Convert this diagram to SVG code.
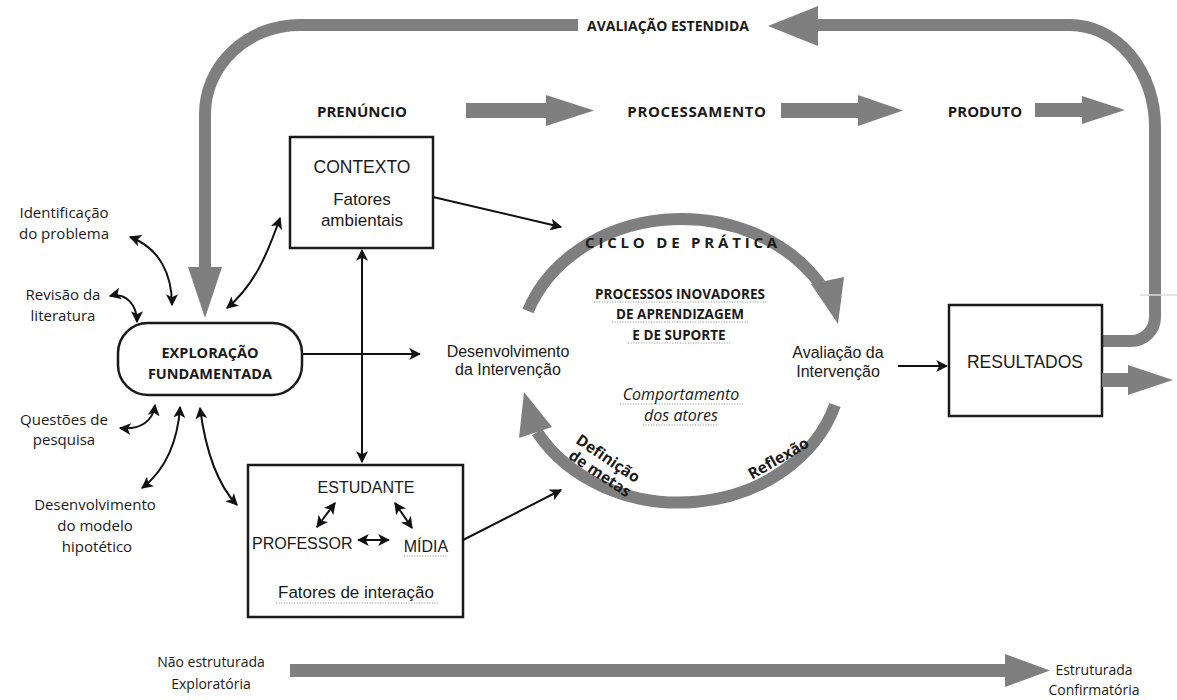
<svg xmlns="http://www.w3.org/2000/svg" width="1177" height="700" viewBox="0 0 1177 700">
  <style>
    .band { fill: none; stroke: #7f7f7f; stroke-width: 12; }
    .head { fill: #7f7f7f; }
    .box { fill: #ffffff; stroke: #1a1a1a; stroke-width: 2.5; }
    .link { fill: none; stroke: #111; stroke-width: 2; }
    .dots { stroke: #8a8a8a; stroke-width: 1.2; stroke-dasharray: 1 1.6; fill: none; }
    .hb { font-family: "Open Sans", "Liberation Sans", sans-serif; font-weight: bold; fill: #1a1a1a; }
    .hr { font-family: "Open Sans", "Liberation Sans", sans-serif; fill: #1a1a1a; }
    .ar { font-family: "Liberation Sans", Arial, sans-serif; fill: #1a1a1a; }
    .mid { text-anchor: middle; }
  </style>
  <defs>
    <marker id="tip" viewBox="0 0 10 10" refX="9" refY="5" markerWidth="6" markerHeight="6" orient="auto-start-reverse" markerUnits="strokeWidth">
      <path d="M0,0 L10,5 L0,10 L2.5,5 Z" fill="#111"/>
    </marker>
  </defs>

  <!-- extended evaluation loop -->
  <g id="extended-loop">
    <path class="band" d="M578,25 L300,25 A95 89 0 0 0 205,114 L205,268"/>
    <polygon class="head" points="188,267 222,267 205,318"/>
    <path class="band" d="M814,25 L1070,25 A85 102 0 0 1 1155,127 L1155,317 A24 24 0 0 1 1131,341 L1100,341"/>
    <polygon class="head" points="768,26 818,6 818,46"/>
    <text class="hb mid" x="668" y="31" font-size="14">AVALIAÇÃO ESTENDIDA</text>
  </g>

  <!-- stage row -->
  <g id="stages">
    <text class="hb mid" x="362" y="117" font-size="15">PRENÚNCIO</text>
    <rect class="head" x="466" y="103" width="81" height="15"/>
    <polygon class="head" points="546,95 594,110.5 546,126"/>
    <text class="hb mid" x="697" y="117" font-size="15" letter-spacing="0.6">PROCESSAMENTO</text>
    <rect class="head" x="781" y="103" width="78" height="15"/>
    <polygon class="head" points="858,95 903,110.5 858,126"/>
    <text class="hb mid" x="985" y="117" font-size="15">PRODUTO</text>
    <rect class="head" x="1035" y="103" width="48" height="14"/>
    <polygon class="head" points="1082,96 1125,110 1082,124"/>
  </g>

  <!-- surrounding topics -->
  <g id="topics">
    <text class="hr mid" x="64" y="218" font-size="15">Identificação</text>
    <text class="hr mid" x="64" y="239" font-size="15">do problema</text>
    <text class="hr mid" x="63" y="300" font-size="15">Revisão da</text>
    <text class="hr mid" x="63" y="321" font-size="15">literatura</text>
    <text class="hr mid" x="64" y="425" font-size="15">Questões de</text>
    <text class="hr mid" x="64" y="445" font-size="15">pesquisa</text>
    <text class="hr mid" x="95" y="510" font-size="15">Desenvolvimento</text>
    <text class="hr mid" x="95" y="531" font-size="15">do modelo</text>
    <text class="hr mid" x="97" y="552" font-size="15">hipotético</text>
  </g>

  <g id="exploracao">
    <rect class="box" x="118" y="323" width="184" height="72" rx="30" ry="30"/>
    <text class="hb mid" x="210" y="358" font-size="14.5">EXPLORAÇÃO</text>
    <text class="hb mid" x="210" y="379" font-size="14.5">FUNDAMENTADA</text>
  </g>

  <g id="contexto">
    <rect class="box" x="290" y="137" width="143" height="111"/>
    <text class="ar mid" x="362" y="173" font-size="17.5">CONTEXTO</text>
    <text class="ar mid" x="362" y="205" font-size="17">Fatores</text>
    <text class="ar mid" x="362" y="226" font-size="17">ambientais</text>
  </g>

  <g id="interacao">
    <rect class="box" x="248" y="465" width="215" height="152"/>
    <text class="ar mid" x="366" y="493" font-size="16">ESTUDANTE</text>
    <text class="ar" x="252" y="549" font-size="16">PROFESSOR</text>
    <text class="ar mid" x="426" y="552" font-size="16">MÍDIA</text>
    <line class="dots" x1="404" y1="556" x2="448" y2="556"/>
    <text class="ar mid" x="356" y="598" font-size="17">Fatores de interação</text>
    <line class="dots" x1="276" y1="603" x2="438" y2="603"/>
    <line class="link" x1="335" y1="503" x2="317" y2="527" marker-start="url(#tip)" marker-end="url(#tip)"/>
    <line class="link" x1="395" y1="503" x2="412" y2="528" marker-start="url(#tip)" marker-end="url(#tip)"/>
    <line class="link" x1="358" y1="540" x2="389" y2="540" marker-start="url(#tip)" marker-end="url(#tip)"/>
  </g>

  <!-- practice cycle -->
  <g id="ciclo">
    <path class="band" d="M528,311 A163 138 0 0 1 820,284"/>
    <polygon class="head" points="811,284 844,277 838,324"/>
    <path class="band" d="M835,405 A163 138 0 0 1 537,432"/>
    <polygon class="head" points="519,438 552,427 524,392"/>
    <text class="hb mid" x="683" y="248" font-size="15" letter-spacing="3.8">CICLO DE PRÁTICA</text>
    <text class="hb mid" x="680" y="299" font-size="13.5">PROCESSOS INOVADORES</text>
    <line class="dots" x1="594" y1="302" x2="767" y2="302"/>
    <text class="hb mid" x="680" y="319" font-size="13.5">DE APRENDIZAGEM</text>
    <line class="dots" x1="612" y1="322" x2="748" y2="322"/>
    <text class="hb mid" x="679" y="340" font-size="13.5">E DE SUPORTE</text>
    <line class="dots" x1="628" y1="343" x2="730" y2="343"/>
    <text class="hr mid" x="681" y="400" font-size="16" font-style="italic">Comportamento</text>
    <line class="dots" x1="620" y1="404" x2="743" y2="404"/>
    <text class="hr mid" x="681" y="421" font-size="16" font-style="italic">dos atores</text>
    <line class="dots" x1="643" y1="425" x2="719" y2="425"/>
    <text class="ar mid" x="508" y="357" font-size="16">Desenvolvimento</text>
    <text class="ar mid" x="508" y="375" font-size="16">da Intervenção</text>
    <text class="ar mid" x="838" y="358" font-size="16">Avaliação da</text>
    <text class="ar mid" x="838" y="377" font-size="16">Intervenção</text>
    <text class="hb mid" x="605" y="463" font-size="15.5" transform="rotate(34 605 463)">Definição</text>
    <text class="hb mid" x="597" y="478" font-size="15.5" transform="rotate(34 597 478)">de metas</text>
    <text class="hb mid" x="781" y="463" font-size="15.5" transform="rotate(-30 781 463)">Reflexão</text>
  </g>

  <g id="resultados">
    <rect class="box" x="949" y="305" width="153" height="111"/>
    <text class="ar mid" x="1025" y="368" font-size="17.5">RESULTADOS</text>
    <rect class="head" x="1102" y="373" width="27" height="14"/>
    <polygon class="head" points="1128,365 1173,380 1128,395"/>
    <line x1="1140" y1="295" x2="1177" y2="295" stroke="#dcdcdc" stroke-width="1.5"/>
  </g>

  <!-- structure axis -->
  <g id="eixo">
    <text class="hr mid" x="211" y="667" font-size="14">Não estruturada</text>
    <text class="hr mid" x="211" y="689" font-size="14">Exploratória</text>
    <rect class="head" x="290" y="664" width="716" height="13"/>
    <polygon class="head" points="1005,654 1050,670.5 1005,687"/>
    <text class="hr mid" x="1094" y="675" font-size="14">Estruturada</text>
    <text class="hr mid" x="1094" y="695" font-size="14">Confirmatória</text>
  </g>

  <!-- connectors -->
  <g id="connectors">
    <line class="link" x1="302" y1="354" x2="420" y2="354" marker-end="url(#tip)"/>
    <line class="link" x1="362" y1="250" x2="362" y2="462" marker-start="url(#tip)" marker-end="url(#tip)"/>
    <line class="link" x1="433" y1="197" x2="561" y2="227" marker-end="url(#tip)"/>
    <line class="link" x1="463" y1="540" x2="561" y2="490" marker-end="url(#tip)"/>
    <line class="link" x1="898" y1="366" x2="947" y2="366" marker-end="url(#tip)"/>
    <path class="link" d="M130,237 C160,248 172,275 172,305" marker-start="url(#tip)" marker-end="url(#tip)"/>
    <path class="link" d="M110,296 C126,292 137,305 137,322" marker-start="url(#tip)" marker-end="url(#tip)"/>
    <path class="link" d="M280,218 C268,252 255,285 227,308" marker-start="url(#tip)" marker-end="url(#tip)"/>
    <path class="link" d="M120,428 C141,430 153,421 155,405" marker-start="url(#tip)" marker-end="url(#tip)"/>
    <path class="link" d="M142,488 C166,470 178,440 180,407" marker-start="url(#tip)" marker-end="url(#tip)"/>
    <path class="link" d="M200,408 C205,446 215,482 237,505" marker-start="url(#tip)" marker-end="url(#tip)"/>
  </g>
</svg>
